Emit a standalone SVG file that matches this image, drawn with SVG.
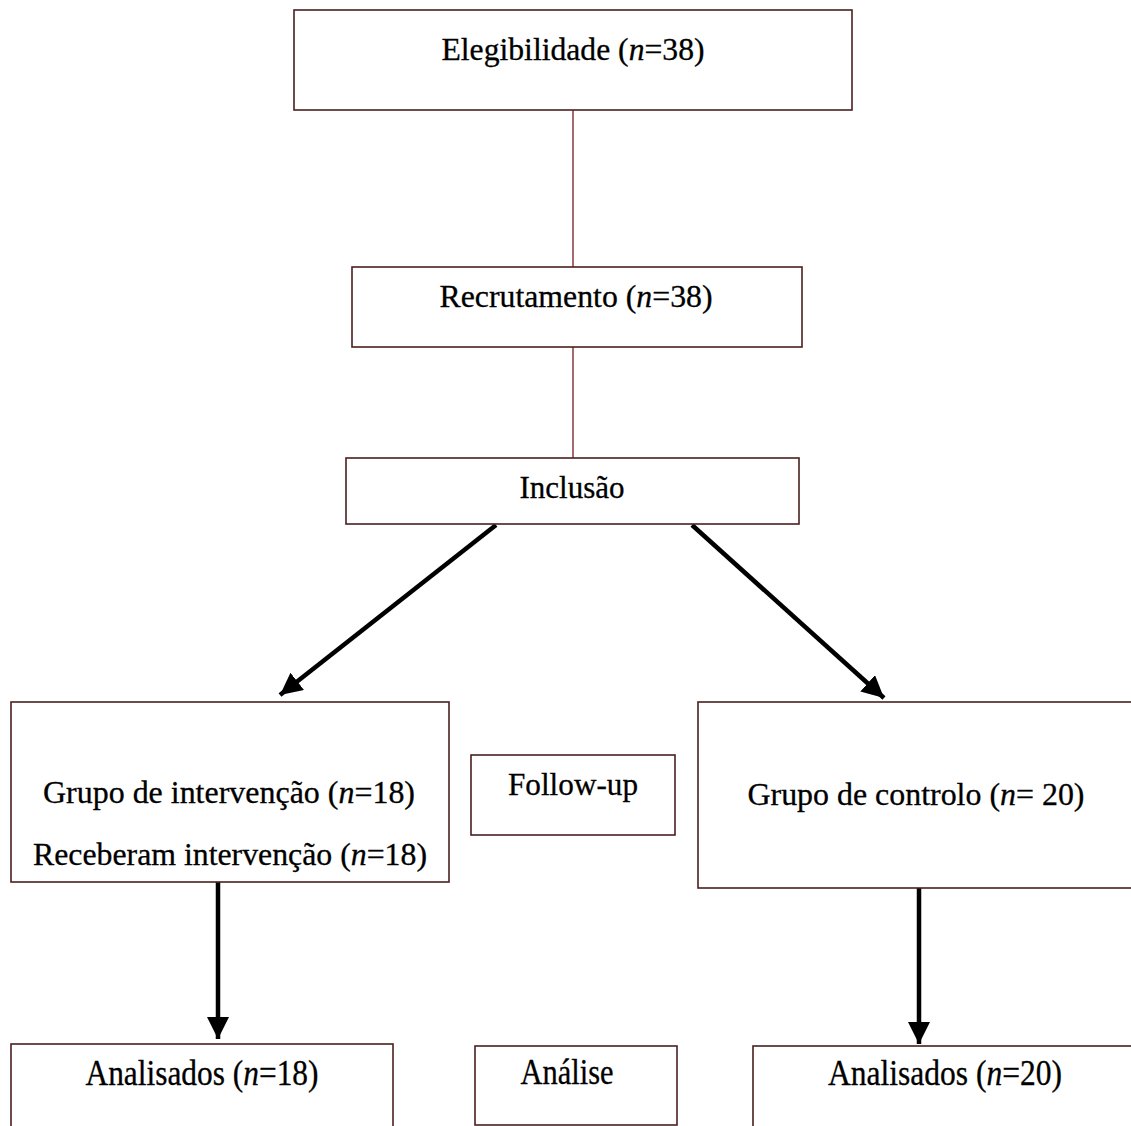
<svg xmlns="http://www.w3.org/2000/svg" width="1131" height="1126" viewBox="0 0 1131 1126">
<style>
.box{fill:#fff;stroke:#4a2020;stroke-width:1.6}
.t{font-family:"Liberation Serif","Times New Roman",serif;font-size:32px;fill:#000;text-anchor:middle;stroke:#000;stroke-width:0.3}
.b{font-size:35px}
.thin{stroke:#8b3a3a;stroke-width:1.5;fill:none}
.arr{stroke:#000;stroke-width:4.5;fill:none;marker-end:url(#ah)}
</style>
<defs>
<marker id="ah" markerUnits="userSpaceOnUse" markerWidth="24" markerHeight="22" refX="22" refY="11" orient="auto">
<path d="M0,0 L22,11 L0,22 Z" fill="#000"/>
</marker>
</defs>
<rect width="1131" height="1126" fill="#fff"/>
<g id="connectors">
<line class="thin" x1="573" y1="110" x2="573" y2="267"/>
<line class="thin" x1="573" y1="347" x2="573" y2="458"/>
<line class="arr" x1="496" y1="525" x2="280" y2="695"/>
<line class="arr" x1="692" y1="525" x2="884" y2="698"/>
<line class="arr" x1="218" y1="882" x2="218" y2="1039"/>
<line class="arr" x1="919" y1="888" x2="919" y2="1044"/>
</g>
<g id="elegibilidade">
<rect class="box" x="294" y="10" width="558" height="100"/>
<text class="t" x="573" y="60" textLength="263" lengthAdjust="spacingAndGlyphs">Elegibilidade (<tspan font-style="italic">n</tspan>=38)</text>
</g>
<g id="recrutamento">
<rect class="box" x="352" y="267" width="450" height="80"/>
<text class="t" x="576" y="307" textLength="273" lengthAdjust="spacingAndGlyphs">Recrutamento (<tspan font-style="italic">n</tspan>=38)</text>
</g>
<g id="inclusao">
<rect class="box" x="346" y="458" width="453" height="66"/>
<text class="t" x="572" y="498" textLength="105" lengthAdjust="spacingAndGlyphs">Inclusão</text>
</g>
<g id="grupo-intervencao">
<rect class="box" x="11" y="702" width="438" height="180"/>
<text class="t" x="229" y="803" textLength="372" lengthAdjust="spacingAndGlyphs">Grupo de intervenção (<tspan font-style="italic">n</tspan>=18)</text>
<text class="t" x="230" y="865" textLength="394" lengthAdjust="spacingAndGlyphs">Receberam intervenção (<tspan font-style="italic">n</tspan>=18)</text>
</g>
<g id="follow-up">
<rect class="box" x="471" y="755" width="204" height="80"/>
<text class="t" x="573" y="795" textLength="130" lengthAdjust="spacingAndGlyphs">Follow-up</text>
</g>
<g id="grupo-controlo">
<rect class="box" x="698" y="702" width="440" height="186"/>
<text class="t" x="916" y="805" textLength="337" lengthAdjust="spacingAndGlyphs">Grupo de controlo (<tspan font-style="italic">n</tspan>= 20)</text>
</g>
<g id="analisados-intervencao">
<rect class="box" x="11" y="1044" width="382" height="100"/>
<text class="t b" x="202" y="1085" textLength="233" lengthAdjust="spacingAndGlyphs">Analisados (<tspan font-style="italic">n</tspan>=18)</text>
</g>
<g id="analise">
<rect class="box" x="475" y="1046" width="202" height="79"/>
<text class="t b" x="567" y="1084" textLength="93" lengthAdjust="spacingAndGlyphs">Análise</text>
</g>
<g id="analisados-controlo">
<rect class="box" x="753" y="1046" width="385" height="100"/>
<text class="t b" x="945" y="1085" textLength="234" lengthAdjust="spacingAndGlyphs">Analisados (<tspan font-style="italic">n</tspan>=20)</text>
</g>
</svg>
